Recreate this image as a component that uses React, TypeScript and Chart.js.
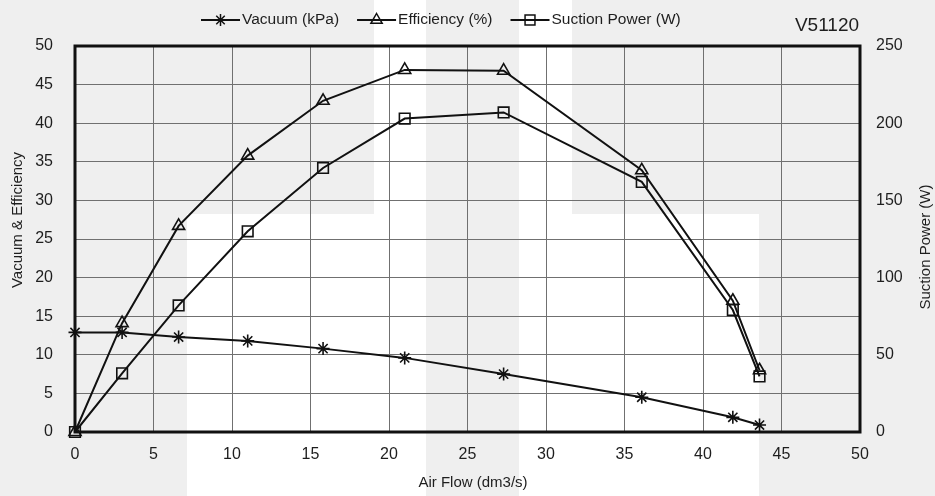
import React, { useEffect, useRef } from 'react';
import { Chart, registerables } from 'chart.js';
import { drawPoint } from 'chart.js/helpers';

Chart.register(...registerables);

const airFlow = [0, 3.0, 6.6, 11.0, 15.8, 21.0, 27.3, 36.1, 41.9, 43.6];
const vacuum = [12.9, 12.9, 12.3, 11.8, 10.8, 9.6, 7.5, 4.5, 1.9, 0.9];
const efficiency = [0, 14.1, 26.7, 35.8, 42.9, 46.9, 46.8, 33.9, 17.0, 8.0];
const suctionPower = [0, 38, 82, 130, 171, 203, 207, 162, 79, 36];
const seriesLabels = ['Vacuum (kPa)', 'Efficiency (%)', 'Suction Power (W)'];
const modelName = 'V51120';
const xTitle = 'Air Flow (dm3/s)';
const yLeftTitle = 'Vacuum & Efficiency';
const yRightTitle = 'Suction Power (W)';

const FONT = '"Liberation Sans", Arial, sans-serif';
const TEXT = '#1e1e1e';

const toPoints = (ys: number[]) => airFlow.map((x, i) => ({ x, y: ys[i] }));

const decorPlugin = {
  id: 'decor',
  beforeDatasetsDraw(chart: any) {
    const { ctx, chartArea: a } = chart;
    ctx.save();
    ctx.strokeStyle = '#111';
    ctx.lineWidth = 3;
    ctx.strokeRect(a.left, a.top, a.right - a.left, a.bottom - a.top);
    ctx.restore();
  },
  afterDraw(chart: any) {
    const { ctx } = chart;
    ctx.save();
    // legend
    ctx.font = `15.5px ${FONT}`;
    ctx.textBaseline = 'middle';
    ctx.textAlign = 'left';
    let x = 201;
    const y = 20;
    chart.data.datasets.forEach((ds: any) => {
      ctx.strokeStyle = '#111';
      ctx.lineWidth = 2;
      ctx.beginPath();
      ctx.moveTo(x, y);
      ctx.lineTo(x + 39, y);
      ctx.stroke();
      ctx.fillStyle = 'rgba(0,0,0,0)';
      ctx.lineWidth = 1.5;
      drawPoint(ctx, { pointStyle: ds.pointStyle, radius: ds.pointRadius - 0.5, borderWidth: 1.5, rotation: 0 } as any, x + 19.5, y);
      ctx.fillStyle = TEXT;
      ctx.fillText(ds.label, x + 41, y);
      x += 41 + ctx.measureText(ds.label).width + 18;
    });
    // model name
    ctx.font = `19px ${FONT}`;
    ctx.textAlign = 'center';
    ctx.fillText(modelName, 827, 26);
    // axis titles
    ctx.font = `15px ${FONT}`;
    ctx.fillText(xTitle, 473, 483);
    ctx.save();
    ctx.translate(18, 220);
    ctx.rotate(-Math.PI / 2);
    ctx.fillText(yLeftTitle, 0, 0);
    ctx.restore();
    ctx.save();
    ctx.translate(926, 247);
    ctx.rotate(-Math.PI / 2);
    ctx.fillText(yRightTitle, 0, 0);
    ctx.restore();
    ctx.restore();
  },
};

const bgBlocks = [
  { left: 374, top: 0, width: 52, height: 496 },
  { left: 519, top: 0, width: 53, height: 496 },
  { left: 187, top: 214, width: 187, height: 282 },
  { left: 572, top: 214, width: 187, height: 282 },
];

export default function App() {
  const ref = useRef<HTMLCanvasElement | null>(null);
  useEffect(() => {
    if (!ref.current) return;
    const common = {
      borderColor: '#111',
      borderWidth: 2,
      pointBorderColor: '#111',
      pointBackgroundColor: 'rgba(0,0,0,0)',
      pointBorderWidth: 1.6,
      showLine: true,
      tension: 0,
      clip: false,
    };
    const chart = new Chart(ref.current, {
      type: 'scatter',
      data: {
        datasets: [
          { ...common, label: seriesLabels[0], data: toPoints(vacuum), pointStyle: 'star', pointRadius: 6.5, yAxisID: 'y' },
          { ...common, label: seriesLabels[1], data: toPoints(efficiency), pointStyle: 'triangle', pointRadius: 7, yAxisID: 'y' },
          { ...common, label: seriesLabels[2], data: toPoints(suctionPower), pointStyle: 'rect', pointRadius: 7.5, yAxisID: 'y1' },
        ],
      },
      options: {
        animation: false,
        responsive: false,
        layout: { padding: { top: 46, left: 0, right: 0, bottom: 0 } },
        plugins: { legend: { display: false }, tooltip: { enabled: false } },
        scales: {
          x: {
            type: 'linear',
            min: 0,
            max: 50,
            ticks: { stepSize: 5, color: TEXT, font: { family: FONT, size: 16 }, padding: 13, maxRotation: 0 },
            grid: { color: '#707070', lineWidth: 1, drawTicks: false },
            border: { display: false },
            afterFit: (s: any) => { s.height = 64; },
          },
          y: {
            position: 'left',
            min: 0,
            max: 50,
            ticks: { stepSize: 5, color: TEXT, font: { family: FONT, size: 16 }, padding: 22 },
            grid: { color: '#707070', lineWidth: 1, drawTicks: false },
            border: { display: false },
            afterFit: (s: any) => { s.width = 75; },
          },
          y1: {
            position: 'right',
            min: 0,
            max: 250,
            ticks: { stepSize: 50, color: TEXT, font: { family: FONT, size: 16 }, padding: 16 },
            grid: { display: false, drawTicks: false },
            border: { display: false },
            afterFit: (s: any) => { s.width = 75; },
          },
        },
      },
      plugins: [decorPlugin],
    } as any);
    return () => chart.destroy();
  }, []);

  return (
    <div style={{ position: 'fixed', left: 0, top: 0, width: 935, height: 496, background: '#efefef', overflow: 'hidden' }}>
      {bgBlocks.map((b, i) => (
        <div key={i} style={{ position: 'absolute', left: b.left, top: b.top, width: b.width, height: b.height, background: '#ffffff' }} />
      ))}
      <canvas ref={ref} width={935} height={496} style={{ position: 'absolute', left: 0, top: 0, width: 935, height: 496 }} />
    </div>
  );
}
